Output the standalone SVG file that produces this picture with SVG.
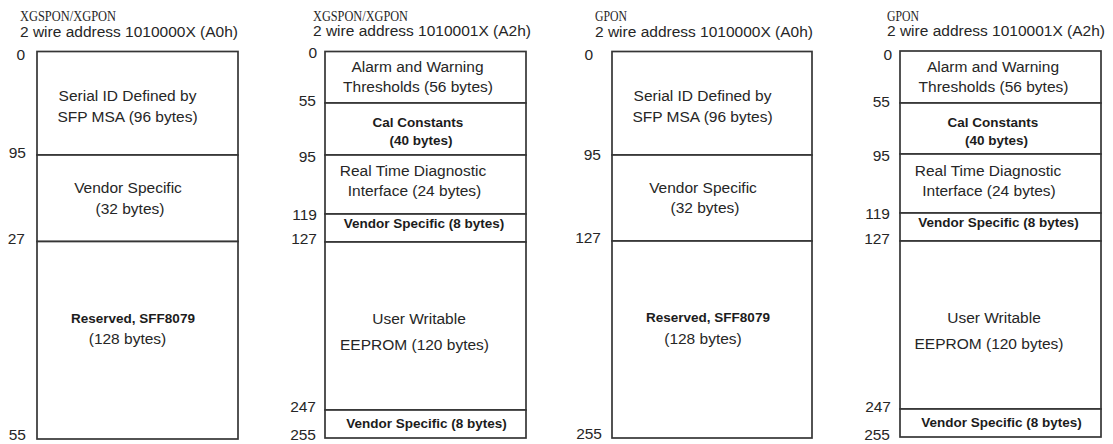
<svg xmlns="http://www.w3.org/2000/svg" width="1113" height="444" viewBox="0 0 1113 444">
  <style>
    .bg { fill: #ffffff; }
    .seg { fill: #ffffff; stroke: #353535; stroke-width: 1.7; }
    .t { font-family: "Liberation Sans", Arial, sans-serif; font-size: 15.5px; fill: #262626; }
    .c { text-anchor: middle; }
    .b { font-weight: bold; font-size: 13.5px; fill: #1c1c1c; }
    .addr { font-family: "Liberation Sans", Arial, sans-serif; font-size: 15.5px; fill: #262626; }
    .title { font-family: "Liberation Serif", "Times New Roman", serif; font-size: 15.5px; fill: #262626; }
    .off { font-family: "Liberation Sans", Arial, sans-serif; font-size: 15.5px; fill: #262626; text-anchor: end; }
  </style>
  <rect class="bg" x="0" y="0" width="1113" height="444"/>

  <!-- Map 1: XGSPON/XGPON, A0h -->
  <g id="map-xgspon-a0">
    <text class="title" x="20" y="20.5" textLength="96" lengthAdjust="spacingAndGlyphs">XGSPON/XGPON</text>
    <text class="addr" x="20" y="37">2 wire address 1010000X (A0h)</text>
    <g id="xa0-serial-id">
      <rect class="seg" x="37" y="51.5" width="201" height="103.5"/>
      <text class="t c" x="127.5" y="101">Serial ID Defined by</text>
      <text class="t c" x="127.5" y="122">SFP MSA (96 bytes)</text>
    </g>
    <g id="xa0-vendor">
      <rect class="seg" x="37" y="155" width="201" height="86.5"/>
      <text class="t c" x="128" y="193">Vendor Specific</text>
      <text class="t c" x="130" y="214">(32 bytes)</text>
    </g>
    <g id="xa0-reserved">
      <rect class="seg" x="37" y="241.5" width="201" height="197.5"/>
      <text class="t c b" x="133" y="323">Reserved, SFF8079</text>
      <text class="t c" x="127.5" y="344">(128 bytes)</text>
    </g>
    <text class="off" x="25" y="60">0</text>
    <text class="off" x="26" y="158">95</text>
    <text class="off" x="25" y="244">27</text>
    <text class="off" x="26" y="440">55</text>
  </g>

  <!-- Map 2: XGSPON/XGPON, A2h -->
  <g id="map-xgspon-a2">
    <text class="title" x="313" y="20.5" textLength="95" lengthAdjust="spacingAndGlyphs">XGSPON/XGPON</text>
    <text class="addr" x="313" y="36">2 wire address 1010001X (A2h)</text>
    <g id="xa2-thresholds">
      <rect class="seg" x="325" y="51.5" width="201" height="51.5"/>
      <text class="t c" x="417.5" y="72">Alarm and Warning</text>
      <text class="t c" x="418" y="92">Thresholds (56 bytes)</text>
    </g>
    <g id="xa2-cal">
      <rect class="seg" x="325" y="103" width="201" height="52"/>
      <text class="t c b" x="418" y="127">Cal Constants</text>
      <text class="t c b" x="421" y="145">(40 bytes)</text>
    </g>
    <g id="xa2-diag">
      <rect class="seg" x="325" y="155" width="201" height="59"/>
      <text class="t c" x="413" y="176">Real Time Diagnostic</text>
      <text class="t c" x="414.5" y="196">Interface (24 bytes)</text>
    </g>
    <g id="xa2-vendor-a">
      <rect class="seg" x="325" y="214" width="201" height="28"/>
      <text class="t c b" x="424" y="228">Vendor Specific (8 bytes)</text>
    </g>
    <g id="xa2-user">
      <rect class="seg" x="325" y="242" width="201" height="168"/>
      <text class="t c" x="419" y="324">User Writable</text>
      <text class="t c" x="414.5" y="350">EEPROM (120 bytes)</text>
    </g>
    <g id="xa2-vendor-b">
      <rect class="seg" x="325" y="410" width="201" height="28"/>
      <text class="t c b" x="426.5" y="428">Vendor Specific (8 bytes)</text>
    </g>
    <text class="off" x="317" y="58">0</text>
    <text class="off" x="316" y="106">55</text>
    <text class="off" x="316" y="162">95</text>
    <text class="off" x="317" y="220">119</text>
    <text class="off" x="317" y="244">127</text>
    <text class="off" x="316" y="412">247</text>
    <text class="off" x="316" y="440">255</text>
  </g>

  <!-- Map 3: GPON, A0h -->
  <g id="map-gpon-a0">
    <text class="title" x="595" y="20.5" textLength="32" lengthAdjust="spacingAndGlyphs">GPON</text>
    <text class="addr" x="595" y="37">2 wire address 1010000X (A0h)</text>
    <g id="ga0-serial-id">
      <rect class="seg" x="612" y="51.5" width="200" height="103.5"/>
      <text class="t c" x="702.5" y="101">Serial ID Defined by</text>
      <text class="t c" x="702.5" y="122">SFP MSA (96 bytes)</text>
    </g>
    <g id="ga0-vendor">
      <rect class="seg" x="612" y="155" width="200" height="86"/>
      <text class="t c" x="703" y="193">Vendor Specific</text>
      <text class="t c" x="705" y="213">(32 bytes)</text>
    </g>
    <g id="ga0-reserved">
      <rect class="seg" x="612" y="241" width="200" height="197"/>
      <text class="t c b" x="708" y="322">Reserved, SFF8079</text>
      <text class="t c" x="703" y="344">(128 bytes)</text>
    </g>
    <text class="off" x="593" y="60">0</text>
    <text class="off" x="601" y="160">95</text>
    <text class="off" x="601" y="243">127</text>
    <text class="off" x="602" y="439">255</text>
  </g>

  <!-- Map 4: GPON, A2h -->
  <g id="map-gpon-a2">
    <text class="title" x="887" y="20.5" textLength="32" lengthAdjust="spacingAndGlyphs">GPON</text>
    <text class="addr" x="887" y="36">2 wire address 1010001X (A2h)</text>
    <g id="ga2-thresholds">
      <rect class="seg" x="900" y="51" width="201" height="52"/>
      <text class="t c" x="993" y="72">Alarm and Warning</text>
      <text class="t c" x="993.5" y="92">Thresholds (56 bytes)</text>
    </g>
    <g id="ga2-cal">
      <rect class="seg" x="900" y="103" width="201" height="51"/>
      <text class="t c b" x="993" y="127">Cal Constants</text>
      <text class="t c b" x="996.5" y="145">(40 bytes)</text>
    </g>
    <g id="ga2-diag">
      <rect class="seg" x="900" y="154" width="201" height="59"/>
      <text class="t c" x="988" y="176">Real Time Diagnostic</text>
      <text class="t c" x="989" y="196">Interface (24 bytes)</text>
    </g>
    <g id="ga2-vendor-a">
      <rect class="seg" x="900" y="213" width="201" height="28"/>
      <text class="t c b" x="998.5" y="227">Vendor Specific (8 bytes)</text>
    </g>
    <g id="ga2-user">
      <rect class="seg" x="900" y="241" width="201" height="168"/>
      <text class="t c" x="994" y="323">User Writable</text>
      <text class="t c" x="989" y="349">EEPROM (120 bytes)</text>
    </g>
    <g id="ga2-vendor-b">
      <rect class="seg" x="900" y="409" width="201" height="28"/>
      <text class="t c b" x="1001.5" y="427">Vendor Specific (8 bytes)</text>
    </g>
    <text class="off" x="892" y="60">0</text>
    <text class="off" x="890" y="107">55</text>
    <text class="off" x="890" y="161">95</text>
    <text class="off" x="890" y="219">119</text>
    <text class="off" x="890" y="244">127</text>
    <text class="off" x="891" y="412">247</text>
    <text class="off" x="890" y="440">255</text>
  </g>
</svg>
